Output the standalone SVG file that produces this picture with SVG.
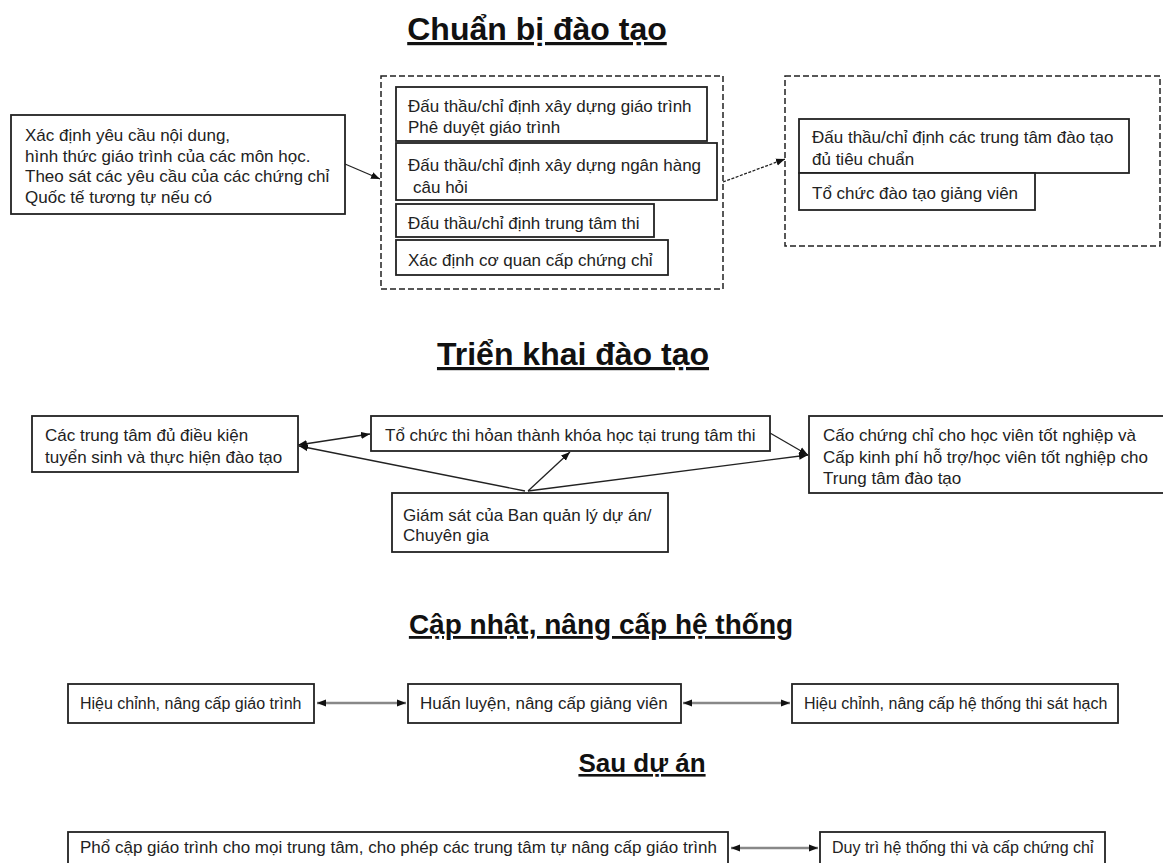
<svg xmlns="http://www.w3.org/2000/svg" width="1163" height="863" viewBox="0 0 1163 863">
<style>
.t{font-family:"Liberation Sans",Arial,sans-serif;font-size:17px;fill:#222}
.s{font-size:16px}
.h{font-family:"Liberation Sans",Arial,sans-serif;font-size:32px;font-weight:bold;fill:#111;text-decoration:underline;text-anchor:middle}
.b{fill:#fff;stroke:#222;stroke-width:1.8}
.d{fill:none;stroke:#222;stroke-width:1.5;stroke-dasharray:6 3}
.c{fill:none;stroke:#222;stroke-width:1.3}
.g{fill:none;stroke:#888;stroke-width:2.5}
</style>
<defs>
<marker id="ah" viewBox="0 0 10 10" refX="10" refY="5" markerWidth="9" markerHeight="9" markerUnits="userSpaceOnUse" orient="auto-start-reverse">
<path d="M0,1 L10,5 L0,9 Z" fill="#111"/>
</marker>
</defs>
<rect width="1163" height="863" fill="#fff"/>

<g id="titles">
<text class="h" x="537" y="40">Chuẩn bị đào tạo</text>
<text class="h" x="573" y="365">Triển khai đào tạo</text>
<text class="h" x="601" y="634" style="font-size:28px">Cập nhật, nâng cấp hệ thống</text>
<text class="h" x="642" y="772" style="font-size:26px">Sau dự án</text>
</g>

<g id="connectors">
<line class="c" x1="345" y1="164" x2="380" y2="179" marker-end="url(#ah)"/>
<line class="c" x1="723" y1="182" x2="785" y2="159" stroke-dasharray="3 1.5" marker-end="url(#ah)"/>
<line class="c" x1="298" y1="445" x2="370" y2="434" marker-start="url(#ah)" marker-end="url(#ah)"/>
<line class="c" x1="525" y1="491" x2="299" y2="446" marker-end="url(#ah)"/>
<line class="c" x1="528" y1="491" x2="570" y2="452" marker-end="url(#ah)"/>
<line class="c" x1="528" y1="491" x2="808" y2="455" marker-end="url(#ah)"/>
<line class="c" x1="770" y1="433" x2="808" y2="455" marker-end="url(#ah)"/>
<line class="g" x1="317" y1="703" x2="406" y2="703" marker-start="url(#ah)" marker-end="url(#ah)"/>
<line class="g" x1="683" y1="703" x2="790" y2="703" marker-start="url(#ah)" marker-end="url(#ah)"/>
<line class="g" x1="731" y1="848" x2="818" y2="848" marker-start="url(#ah)" marker-end="url(#ah)"/>
</g>

<g id="req">
<rect class="b" x="11" y="115" width="334" height="99"/>
<text class="t" x="25" y="141">Xác định yêu cầu nội dung,</text>
<text class="t" x="25" y="161.5">hình thức giáo trình của các môn học.</text>
<text class="t" x="25" y="182">Theo sát các yêu cầu của các chứng chỉ</text>
<text class="t" x="25" y="202.5">Quốc tế tương tự nếu có</text>
</g>

<g id="group1">
<rect class="d" x="381" y="76" width="342" height="213"/>
</g>
<g id="a1">
<rect class="b" x="396" y="87" width="311" height="54"/>
<text class="t" x="408" y="112">Đấu thầu/chỉ định xây dựng giáo trình</text>
<text class="t" x="408" y="133">Phê duyệt giáo trình</text>
</g>
<g id="a2">
<rect class="b" x="396" y="143" width="321" height="57"/>
<text class="t" x="408" y="171">Đấu thầu/chỉ định xây dựng ngân hàng</text>
<text class="t" x="413" y="193"> câu hỏi</text>
</g>
<g id="a3">
<rect class="b" x="396" y="204" width="258" height="33"/>
<text class="t" x="408" y="229">Đấu thầu/chỉ định trung tâm thi</text>
</g>
<g id="a4">
<rect class="b" x="396" y="240" width="272" height="35"/>
<text class="t" x="408" y="266">Xác định cơ quan cấp chứng chỉ</text>
</g>

<g id="group2">
<rect class="d" x="785" y="76" width="375" height="170"/>
</g>
<g id="b1">
<rect class="b" x="799" y="119" width="330" height="54"/>
<text class="t" x="812" y="143">Đấu thầu/chỉ định các trung tâm đào tạo</text>
<text class="t" x="812" y="165">đủ tiêu chuẩn</text>
</g>
<g id="b2">
<rect class="b" x="799" y="173" width="236" height="37"/>
<text class="t" x="812" y="199">Tổ chức đào tạo giảng viên</text>
</g>

<g id="centers">
<rect class="b" x="32" y="416" width="266" height="56"/>
<text class="t" x="45" y="441">Các trung tâm đủ điều kiện</text>
<text class="t" x="45" y="463">tuyển sinh và thực hiện đào tạo</text>
</g>
<g id="exam">
<rect class="b" x="371" y="416" width="399" height="35"/>
<text class="t" x="385" y="441">Tổ chức thi hỏan thành khóa học tại trung tâm thi</text>
</g>
<g id="supervise">
<rect class="b" x="392" y="493" width="276" height="59"/>
<text class="t" x="403" y="521">Giám sát của Ban quản lý dự án/</text>
<text class="t" x="403" y="541">Chuyên gia</text>
</g>
<g id="cert">
<rect class="b" x="809" y="416" width="360" height="77"/>
<text class="t" x="823" y="441">Cấo chứng chỉ cho học viên tốt nghiệp và</text>
<text class="t" x="823" y="463">Cấp kinh phí hỗ trợ/học viên tốt nghiệp cho</text>
<text class="t" x="823" y="484">Trung tâm đào tạo</text>
</g>

<g id="upd1">
<rect class="b" x="68" y="684" width="246" height="39"/>
<text class="t s" x="80" y="709">Hiệu chỉnh, nâng cấp giáo trình</text>
</g>
<g id="upd2">
<rect class="b" x="408" y="684" width="273" height="39"/>
<text class="t" x="420" y="709">Huấn luyện, nâng cấp giảng viên</text>
</g>
<g id="upd3">
<rect class="b" x="792" y="684" width="326" height="39"/>
<text class="t s" x="804" y="709">Hiệu chỉnh, nâng cấp hệ thống thi sát hạch</text>
</g>

<g id="post1">
<rect class="b" x="68" y="832" width="660" height="40"/>
<text class="t" x="80" y="853">Phổ cập giáo trình cho mọi trung tâm, cho phép các trung tâm tự nâng cấp giáo trình</text>
</g>
<g id="post2">
<rect class="b" x="820" y="832" width="285" height="40"/>
<text class="t s" x="832" y="853">Duy trì hệ thống thi và cấp chứng chỉ</text>
</g>
</svg>
